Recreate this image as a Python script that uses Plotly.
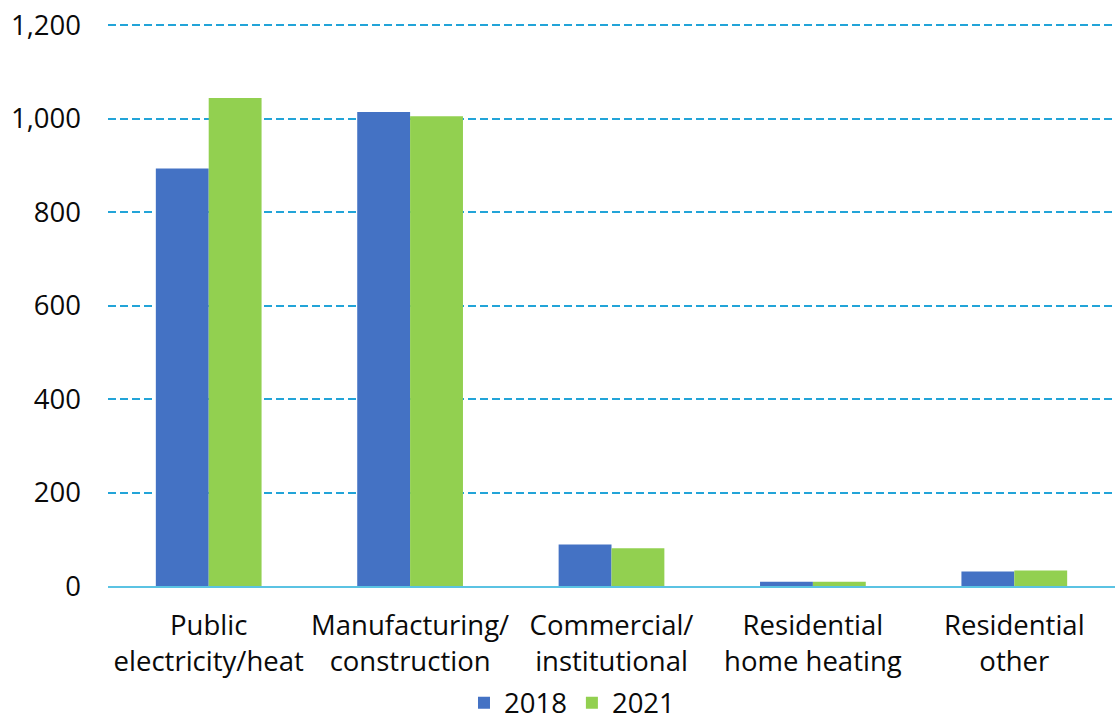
import plotly.graph_objects as go

categories = ["Public<br>electricity/heat", "Manufacturing/<br>construction", "Commercial/<br>institutional",
              "Residential<br>home heating", "Residential<br>other"]
values_2018 = [893, 1014, 89, 9, 31]
values_2021 = [1044, 1005, 81, 9, 33]
y_ticks = [0, 200, 400, 600, 800, 1000, 1200]

FONT = "Open Sans"

fig = go.Figure()
fig.add_trace(go.Bar(name="2018", x=categories, y=values_2018, marker_color="#4472C4",
                     marker_line_width=0))
fig.add_trace(go.Bar(name="2021", x=categories, y=values_2021, marker_color="#92D050",
                     marker_line_width=0))

# y range slightly above the last tick so the 1,200 gridline is drawn inside the plot area
fig.update_layout(
    width=1115, height=723,
    margin=dict(l=108, r=0, t=11, b=137, autoexpand=False),
    paper_bgcolor="white", plot_bgcolor="white",
    barmode="group", bargap=0.475, bargroupgap=0,
    font=dict(family=FONT, size=27.5, color="#0a0a0a"),
    showlegend=True,
    legend=dict(orientation="h", x=0.513, xanchor="center", xref="container",
                y=0.028, yanchor="middle", yref="container",
                font=dict(size=27.5), itemwidth=30, traceorder="normal"),
)
fig.update_yaxes(
    range=[0, 1230], tickvals=y_ticks, tickformat=",d",
    showgrid=True, gridcolor="#22A4D8", griddash="8px,4px", gridwidth=1.8,
    zeroline=False, showline=False, ticks="", ticklabelstandoff=26,
)
fig.update_xaxes(
    showline=True, linecolor="#5BC3E3", linewidth=2, ticks="", showgrid=False,
    ticklabelstandoff=14, automargin=False,
)

fig.write_html("out.html")
